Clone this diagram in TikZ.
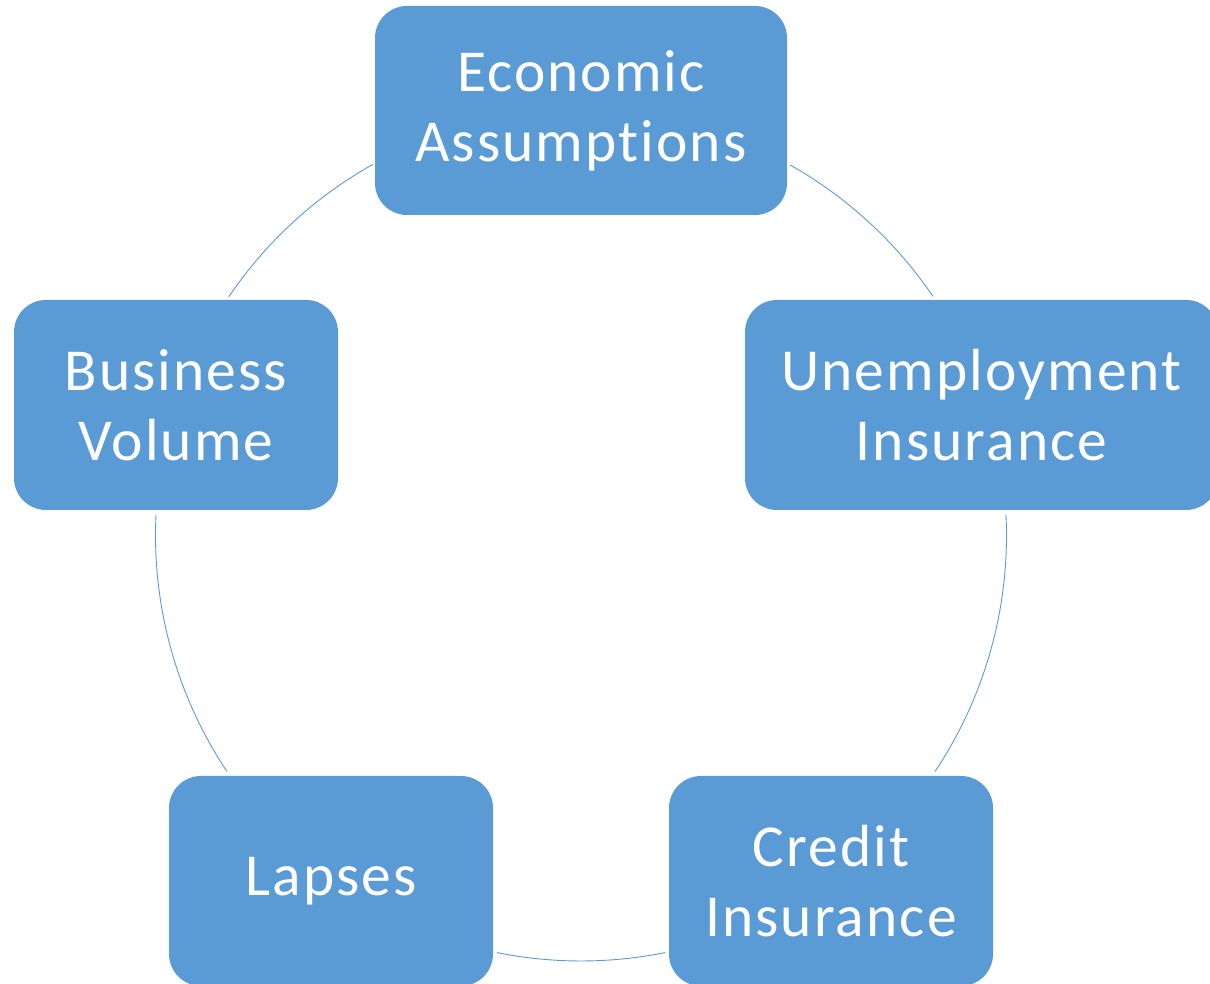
\documentclass[tikz,border=0pt]{standalone}
\usepackage{fontspec}
\setmainfont{Carlito}[Ligatures={NoCommon}, LetterSpace=3.5]
\usetikzlibrary{calc}
\definecolor{boxblue}{HTML}{5B9BD5}
\begin{document}
\begin{tikzpicture}[x=1pt,y=1pt,
  stagebox/.style={draw=none, fill=boxblue, rounded corners=32pt,
    minimum height=210pt, inner sep=0pt, align=center, text=white,
    font=\fontsize{59.5}{70}\selectfont},
  cyclearc/.style={draw=boxblue, line width=0.9pt}]
\useasboundingbox (0,0) rectangle (1210,983);
% centre of the cycle
\coordinate (ctr) at (581,447.5);
\def\rad{425.5}
% stages
\node[stagebox, minimum width=412pt, minimum height=209pt] (econ) at (581,872.5) {Economic\\Assumptions};
\node[stagebox, minimum width=473pt] (unemp) at (981.5,578) {Unemployment\\Insurance};
\node[stagebox, minimum width=324pt] (credit) at (831,102) {Credit\\Insurance};
\node[stagebox, minimum width=324pt] (lapses) at (331,102) {Lapses};
\node[stagebox, minimum width=324pt] (volume) at (176,578) {Business\\Volume};
% arcs of the cycle between neighbouring stages
\draw[cyclearc] ($(ctr)+(60.6:\rad)$) arc[start angle=60.6, end angle=34.2, radius=\rad];
\draw[cyclearc] ($(ctr)+(2.8:\rad)$) arc[start angle=2.8, end angle=-33.7, radius=\rad];
\draw[cyclearc] ($(ctr)+(281.4:\rad)$) arc[start angle=281.4, end angle=258.6, radius=\rad];
\draw[cyclearc] ($(ctr)+(213.7:\rad)$) arc[start angle=213.7, end angle=177.2, radius=\rad];
\draw[cyclearc] ($(ctr)+(145.9:\rad)$) arc[start angle=145.9, end angle=119.3, radius=\rad];
\end{tikzpicture}
\end{document}
